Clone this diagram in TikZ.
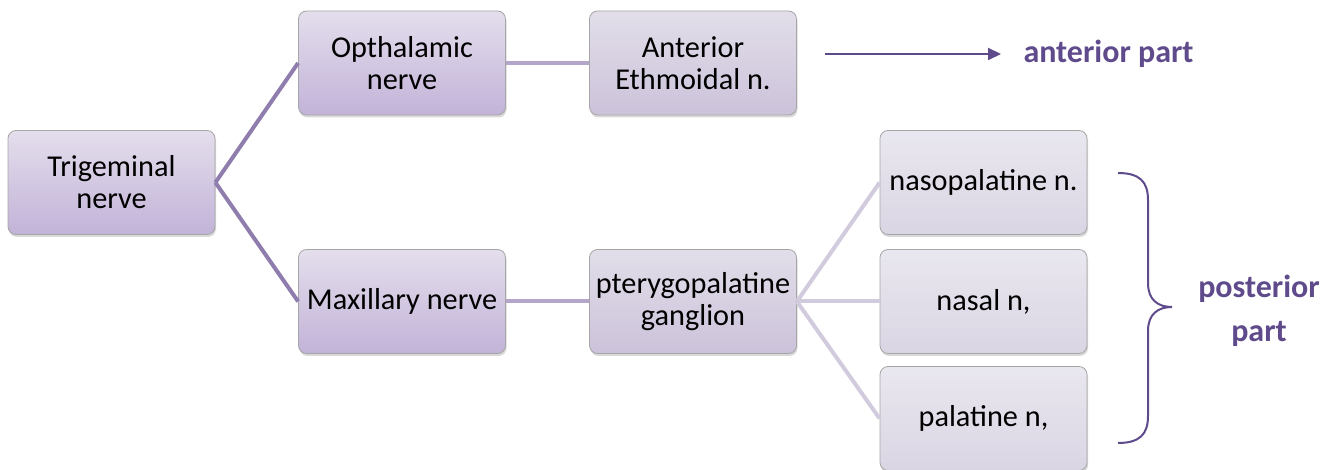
\documentclass[tikz,border=0pt]{standalone}
\usepackage{fontspec}
\setmainfont{Carlito}
\usetikzlibrary{shadows,arrows.meta}
\definecolor{dpurple}{HTML}{5F4B8B}
\definecolor{lnA}{HTML}{8E7DAD}
\definecolor{lnB}{HTML}{B3A6C8}
\definecolor{lnC}{HTML}{D2CBDD}
\definecolor{aTop}{HTML}{E4DEEC}
\definecolor{aBot}{HTML}{C2B3D8}
\definecolor{bTop}{HTML}{E2DEE9}
\definecolor{bBot}{HTML}{CCC2DA}
\definecolor{cTop}{HTML}{E9E7EF}
\definecolor{cBot}{HTML}{DAD5E3}
\tikzset{
  nbox/.style={draw=black!35, line width=0.8pt, rounded corners=8pt,
    minimum width=207pt, minimum height=104pt, align=center,
    font=\fontsize{30.3}{32}\selectfont, inner sep=2pt,
    drop shadow={opacity=0.3, shadow xshift=1pt, shadow yshift=-2.5pt}},
  lvA/.style={nbox, top color=aTop, bottom color=aBot},
  lvB/.style={nbox, top color=bTop, bottom color=bBot},
  lvC/.style={nbox, top color=cTop, bottom color=cBot},
  conn/.style={line width=4pt},
  lbl/.style={text=dpurple, font=\bfseries\fontsize{32}{44}\selectfont, align=center}
}
\begin{document}
\begin{tikzpicture}[x=1pt,y=-1pt]
\useasboundingbox (0,0) rectangle (1339,470);
\node[lvA] (tri) at (111.5,182.5) {Trigeminal\\nerve};
\node[lvA] (oph) at (402,63) {Opthalamic\\nerve};
\node[lvA] (max) at (402,301.5) {Maxillary nerve};
\node[lvB] (ant) at (693,63) {Anterior\\Ethmoidal n.};
\node[lvB] (pte) at (693,301.5) {pterygopalatine\\ganglion};
\node[lvC] (nasp) at (983.5,182.5) {nasopalatine n.};
\node[lvC] (nas) at (983.5,301.5) {nasal n,};
\node[lvC] (pal) at (983.5,418.5) {palatine n,};
\draw[conn, lnA] (tri.east) -- (oph.west);
\draw[conn, lnA] (tri.east) -- (max.west);
\draw[conn, lnB] (oph.east) -- (ant.west);
\draw[conn, lnB] (max.east) -- (pte.west);
\draw[conn, lnC] (pte.east) -- (nasp.west);
\draw[conn, lnC] (pte.east) -- (nas.west);
\draw[conn, lnC] (pte.east) -- (pal.west);
\coordinate (arS) at (825,54);
\node[lbl, anchor=west] (antp) at (1020,54) {anterior part};
\draw[dpurple, line width=2pt, -{Triangle[length=13pt,width=12pt]}] (arS) -- (1001,54);
\coordinate (brT) at (1118,173);
\coordinate (brB) at (1118,443);
\draw[dpurple, line width=2pt] (brT) .. controls (1140,173) and (1148,182) .. (1148,200)
  -- (1148,283) .. controls (1148,300) and (1158,307) .. (1172,307)
  .. controls (1158,307) and (1148,314) .. (1148,331)
  -- (1148,416) .. controls (1148,434) and (1140,443) .. (brB);
\node[lbl] (postp) at (1259,311) {posterior\\part};
\end{tikzpicture}
\end{document}
